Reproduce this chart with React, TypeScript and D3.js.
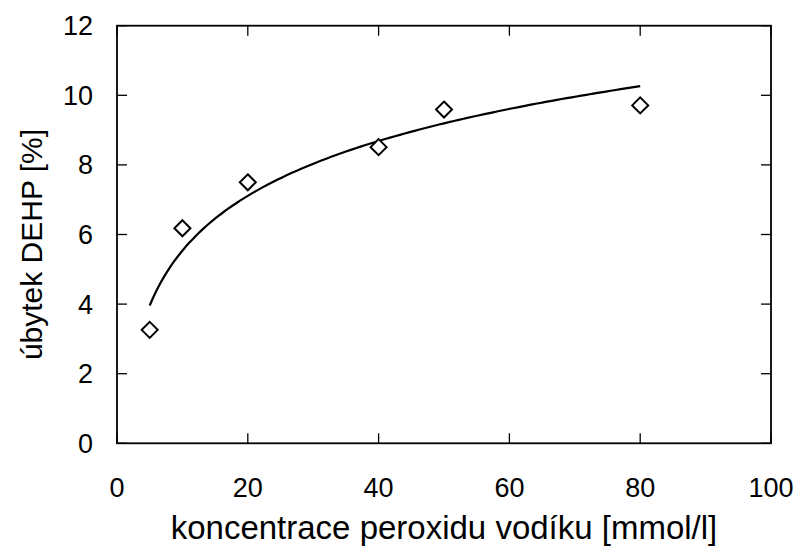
import React from "react";
import * as d3 from "d3";

const concentrations = [5, 10, 20, 40, 50, 80];
const decrease = [3.26, 6.18, 7.5, 8.51, 9.59, 9.71];
const xTicks = [0, 20, 40, 60, 80, 100];
const yTicks = [0, 2, 4, 6, 8, 10, 12];
const xTitle = "koncentrace peroxidu vodíku [mmol/l]";
const yTitle = "úbytek DEHP [%]";

const W = 799;
const H = 553;
const M = { left: 117, right: 771, top: 25.7, bottom: 443.3 };
const FONT = "'Liberation Sans', Arial, sans-serif";

export default function App() {
  const x = d3.scaleLinear().domain([0, 100]).range([M.left, M.right]);
  const y = d3.scaleLinear().domain([0, 12]).range([M.bottom, M.top]);

  // logarithmic trendline (least squares on ln x)
  const lx = concentrations.map(Math.log);
  const mx = d3.mean(lx) as number;
  const my = d3.mean(decrease) as number;
  const sxy = d3.sum(lx.map((v, i) => (v - mx) * (decrease[i] - my)));
  const sxx = d3.sum(lx.map((v) => (v - mx) * (v - mx)));
  const a = sxy / sxx;
  const b = my - a * mx;
  const x0 = d3.min(concentrations) as number;
  const x1 = d3.max(concentrations) as number;
  const trend = d3.range(0, 101).map((i) => {
    const xv = x0 + ((x1 - x0) * i) / 100;
    return [xv, a * Math.log(xv) + b] as [number, number];
  });
  const line = d3
    .line<[number, number]>()
    .x((d) => x(d[0]))
    .y((d) => y(d[1]))
    .curve(d3.curveMonotoneX);

  const tickLen = 10;
  const r = 8;

  return (
    <svg width={W} height={H} style={{ position: "absolute", left: 0, top: 0, background: "#fff" }}>
      <rect x={0} y={0} width={W} height={H} fill="#fff" />
      {xTicks.map((t) => (
        <g key={"x" + t}>
          <line x1={x(t)} x2={x(t)} y1={M.bottom} y2={M.bottom - tickLen} stroke="#000" strokeWidth={1.3} />
          <line x1={x(t)} x2={x(t)} y1={M.top} y2={M.top + tickLen} stroke="#000" strokeWidth={1.3} />
          <text x={x(t)} y={497} fontFamily={FONT} fontSize={27} textAnchor="middle" fill="#000">
            {t}
          </text>
        </g>
      ))}
      {yTicks.map((t) => (
        <g key={"y" + t}>
          <line x1={M.left} x2={M.left + tickLen} y1={y(t)} y2={y(t)} stroke="#000" strokeWidth={1.3} />
          <line x1={M.right} x2={M.right - tickLen} y1={y(t)} y2={y(t)} stroke="#000" strokeWidth={1.3} />
          <text x={93} y={y(t)} dy="0.35em" fontFamily={FONT} fontSize={27} textAnchor="end" fill="#000">
            {t}
          </text>
        </g>
      ))}
      <rect
        x={M.left}
        y={M.top}
        width={M.right - M.left}
        height={M.bottom - M.top}
        fill="none"
        stroke="#000"
        strokeWidth={1.8}
      />
      <path d={line(trend) || ""} fill="none" stroke="#000" strokeWidth={2.2} />
      {concentrations.map((c, i) => {
        const cx = x(c);
        const cy = y(decrease[i]);
        return (
          <path
            key={"p" + i}
            d={`M${cx},${cy - r}L${cx + r},${cy}L${cx},${cy + r}L${cx - r},${cy}Z`}
            fill="#fff"
            stroke="#000"
            strokeWidth={2}
          />
        );
      })}
      <text x={(M.left + M.right) / 2} y={539} fontFamily={FONT} fontSize={33} textAnchor="middle" fill="#000">
        {xTitle}
      </text>
      <text
        transform={`translate(42,${(M.top + M.bottom) / 2 + 10}) rotate(-90)`}
        fontFamily={FONT}
        fontSize={30}
        textAnchor="middle"
        fill="#000"
      >
        {yTitle}
      </text>
    </svg>
  );
}
